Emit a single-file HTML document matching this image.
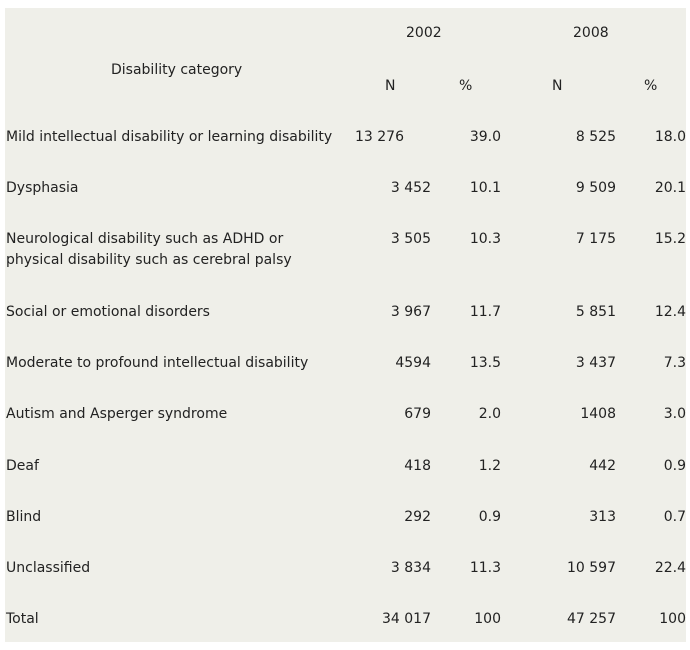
<!DOCTYPE html>
<html><head><style>
body{margin:0;width:690px;height:650px;background:#fff;position:relative;font-family:"DejaVu Sans",Verdana,sans-serif;font-size:14px;color:#222;}
#bg{position:absolute;left:5px;top:8px;width:681px;height:634px;background:#efefe9;}
.t{position:absolute;white-space:nowrap;line-height:16px;}
.r{text-align:right;}
</style></head><body>
<div id="bg"></div>
<div class="t" style="left:406px;top:25px">2002</div>
<div class="t" style="left:573px;top:25px">2008</div>
<div class="t" style="left:111px;top:62px">Disability category</div>
<div class="t" style="left:385px;top:78px">N</div>
<div class="t" style="left:459px;top:78px">%</div>
<div class="t" style="left:552px;top:78px">N</div>
<div class="t" style="left:644px;top:78px">%</div>
<div id="rows"></div>
<script>
var d=[
[129,"Mild intellectual disability or learning disability","13 276","39.0","8 525","18.0",404],
[180,"Dysphasia","3 452","10.1","9 509","20.1"],
[231,"Neurological disability such as ADHD or<br>physical disability such as cerebral palsy","3 505","10.3","7 175","15.2"],
[304,"Social or emotional disorders","3 967","11.7","5 851","12.4"],
[355,"Moderate to profound intellectual disability","4594","13.5","3 437","7.3"],
[406,"Autism and Asperger syndrome","679","2.0","1408","3.0"],
[458,"Deaf","418","1.2","442","0.9"],
[509,"Blind","292","0.9","313","0.7"],
[560,"Unclassified","3 834","11.3","10 597","22.4"],
[611,"Total","34 017","100","47 257","100"]];
var h="";
d.forEach(function(r){
h+='<div class="t" style="left:6px;top:'+r[0]+'px;line-height:21px;margin-top:-2px">'+r[1]+'</div>';
var rs=[r[6]||431,501,616,686];
for(var i=0;i<4;i++)h+='<div class="t r" style="right:'+(690-rs[i])+'px;top:'+r[0]+'px">'+r[i+2]+'</div>';
});
document.getElementById("rows").innerHTML=h;
</script>
</body></html>
